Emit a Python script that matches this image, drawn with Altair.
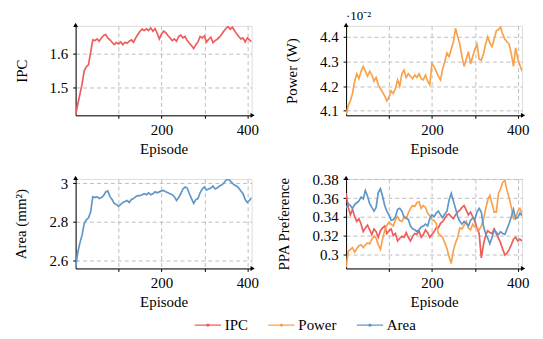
import altair as alt
import pandas as pd

episodes = list(range(0, 411, 5))

ipc = [1.417, 1.45, 1.48, 1.51, 1.55, 1.562, 1.568, 1.605, 1.642, 1.64,
       1.645, 1.638, 1.648, 1.655, 1.658, 1.648, 1.642, 1.635, 1.628, 1.634,
       1.63, 1.636, 1.628, 1.635, 1.632, 1.638, 1.642, 1.635, 1.648, 1.658,
       1.668, 1.674, 1.67, 1.675, 1.67, 1.678, 1.668, 1.676, 1.662, 1.645,
       1.66, 1.668, 1.664, 1.655, 1.648, 1.64, 1.645, 1.638, 1.652, 1.656,
       1.648, 1.652, 1.64, 1.632, 1.625, 1.616, 1.628, 1.636, 1.652, 1.648,
       1.654, 1.636, 1.644, 1.65, 1.634, 1.64, 1.644, 1.65, 1.658, 1.668,
       1.676, 1.682, 1.674, 1.68, 1.67, 1.66, 1.652, 1.645, 1.648, 1.636,
       1.648, 1.642, 1.636]

power = [4.085, 4.12, 4.14, 4.17, 4.22, 4.25, 4.23, 4.26, 4.28, 4.26,
         4.24, 4.26, 4.245, 4.22, 4.235, 4.205, 4.19, 4.175, 4.16, 4.14,
         4.155, 4.18, 4.17, 4.19, 4.225, 4.2, 4.25, 4.265, 4.235, 4.25,
         4.24, 4.23, 4.245, 4.235, 4.25, 4.23, 4.225, 4.245, 4.22, 4.205,
         4.29, 4.28, 4.26, 4.24, 4.225, 4.27, 4.3, 4.335, 4.32, 4.35,
         4.38, 4.435, 4.4, 4.37, 4.32, 4.28, 4.31, 4.34, 4.29, 4.32,
         4.35, 4.37, 4.31, 4.305, 4.33, 4.37, 4.4, 4.375, 4.36, 4.39,
         4.425, 4.43, 4.44, 4.41, 4.39, 4.38, 4.37, 4.33, 4.28, 4.355,
         4.31, 4.285, 4.26]

area = [2.56, 2.64, 2.69, 2.73, 2.79, 2.81, 2.82, 2.85, 2.93, 2.925,
        2.93, 2.92, 2.925, 2.935, 2.955, 2.96, 2.93, 2.915, 2.895, 2.89,
        2.88, 2.89, 2.9, 2.905, 2.91, 2.9, 2.915, 2.92, 2.93, 2.935,
        2.935, 2.94, 2.945, 2.94, 2.95, 2.94, 2.945, 2.955, 2.95, 2.955,
        2.96, 2.962, 2.955, 2.95, 2.945, 2.94, 2.93, 2.91, 2.925, 2.945,
        2.97, 2.98, 2.975, 2.945, 2.92, 2.895, 2.915, 2.92, 2.95, 2.97,
        2.98, 2.965, 2.97, 2.975, 2.985, 2.97, 2.975, 2.985, 2.99, 3.0,
        3.015, 3.022, 3.012, 3.0, 2.99, 2.985, 2.975, 2.96, 2.945, 2.915,
        2.9, 2.91, 2.925]

pref_ipc = [0.365, 0.35, 0.342, 0.348, 0.34, 0.335, 0.338, 0.332, 0.324, 0.328,
            0.331, 0.326, 0.321, 0.327, 0.324, 0.318, 0.325, 0.328, 0.33, 0.322,
            0.325, 0.327, 0.32, 0.322, 0.314, 0.317, 0.319, 0.318, 0.323, 0.318,
            0.314, 0.319, 0.322, 0.321, 0.325, 0.318, 0.321, 0.326, 0.323, 0.318,
            0.321, 0.324, 0.328, 0.328, 0.333, 0.335, 0.338, 0.342, 0.343, 0.34,
            0.338, 0.342, 0.345, 0.347, 0.35, 0.352, 0.347, 0.342, 0.345, 0.34,
            0.335, 0.328, 0.322, 0.296, 0.31, 0.32, 0.325, 0.323, 0.322, 0.327,
            0.322, 0.317, 0.312, 0.305, 0.299, 0.301, 0.305, 0.31, 0.316, 0.318,
            0.314, 0.316, 0.314]

pref_power = [0.286, 0.303, 0.305, 0.307, 0.302, 0.306, 0.309, 0.31, 0.307, 0.31,
              0.312, 0.311, 0.316, 0.319, 0.317, 0.31, 0.305, 0.316, 0.325, 0.331,
              0.334, 0.332, 0.33, 0.337, 0.34, 0.336, 0.335, 0.339, 0.338, 0.344,
              0.349, 0.352, 0.351, 0.355, 0.356, 0.349, 0.352, 0.35, 0.344, 0.341,
              0.337, 0.336, 0.333, 0.322, 0.32, 0.318, 0.312, 0.306, 0.297, 0.29,
              0.304, 0.312, 0.318, 0.328, 0.327, 0.331, 0.335, 0.328, 0.326, 0.332,
              0.329, 0.328, 0.326, 0.33, 0.337, 0.348, 0.358, 0.363, 0.354, 0.345,
              0.345, 0.365, 0.37, 0.377, 0.379, 0.368, 0.36, 0.35, 0.338, 0.338,
              0.346, 0.349, 0.343]

pref_area = [0.349, 0.354, 0.352, 0.349, 0.353, 0.355, 0.357, 0.361, 0.359, 0.368,
             0.362, 0.354, 0.35, 0.346, 0.35, 0.366, 0.37, 0.362, 0.352, 0.346,
             0.342, 0.336, 0.337, 0.34, 0.348, 0.349, 0.346, 0.34, 0.339, 0.337,
             0.33, 0.327, 0.326, 0.324, 0.326, 0.329, 0.33, 0.332, 0.33, 0.338,
             0.342, 0.34, 0.344, 0.346, 0.342, 0.339, 0.343, 0.346, 0.358, 0.365,
             0.357, 0.349, 0.34, 0.335, 0.332, 0.335, 0.333, 0.33, 0.336, 0.339,
             0.337, 0.345, 0.349, 0.345, 0.33, 0.322, 0.317, 0.311, 0.318, 0.326,
             0.323, 0.321, 0.324, 0.322, 0.321, 0.327, 0.333, 0.34, 0.348, 0.338,
             0.339, 0.344, 0.341]

series_names = ["IPC", "Power", "Area"]
series_colors = ["#ef5d5b", "#f8a24c", "#5f97c8"]

FONT = "Liberation Serif"
W, H = 177, 90


def frame(values, name):
    return pd.DataFrame({"episode": episodes, "value": values, "series": name})


color_scale = alt.Scale(domain=series_names, range=series_colors)
legend = alt.Legend(
    orient="none", legendX=119, legendY=287, direction="horizontal", title=None,
    symbolType="M-1,0H1M-0.07,0A0.07,0.07 0 1,0 0.07,0A0.07,0.07 0 1,0 -0.07,0",
    symbolSize=700, symbolStrokeWidth=1.5,
    labelFont=FONT, labelFontSize=15, labelColor="black", labelOffset=3,
    columnPadding=16,
)

axis_common = dict(
    domainColor="black", domainWidth=1, tickColor="black", tickSize=3, tickWidth=1,
    labelFont=FONT, labelFontSize=15, labelColor="black",
    titleFont=FONT, titleFontSize=15, titleFontWeight="normal", titleColor="black",
    grid=True, gridColor="#bdbdbd", gridDash=[4, 3], gridWidth=1,
)


def panel(df, ytitle, ydomain, yticks, title_x, extra=None):
    xaxis = alt.Axis(
        values=[100, 200, 300, 400],
        labelExpr="datum.value % 200 === 0 ? datum.label : ''",
        title="Episode", titleY=38, titleBaseline="alphabetic",
        labelPadding=4, **axis_common,
    )
    yaxis = alt.Axis(
        values=yticks, format="~g", title=ytitle,
        titleX=title_x, titleY=H / 2, titleBaseline="middle", titleAlign="center",
        labelPadding=5, **axis_common,
    )
    line = alt.Chart(df).mark_line(strokeWidth=1.7, clip=True).encode(
        x=alt.X("episode:Q", scale=alt.Scale(domain=[0, 410], nice=False, zero=False), axis=xaxis),
        y=alt.Y("value:Q", scale=alt.Scale(domain=ydomain, nice=False, zero=False), axis=yaxis),
        color=alt.Color("series:N", scale=color_scale, legend=legend),
        detail="series:N",
    )
    dummy = pd.DataFrame({"k": [0]})
    xarrow = alt.Chart(dummy).mark_point(shape="triangle-right", filled=True, size=24,
                                         color="black", opacity=1).encode(
        x=alt.value(W + 1), y=alt.value(H))
    yarrow = alt.Chart(dummy).mark_point(shape="triangle-up", filled=True, size=24,
                                         color="black", opacity=1).encode(
        x=alt.value(0), y=alt.value(-1))
    layers = [line, xarrow, yarrow]
    if extra is not None:
        layers.append(extra)
    return alt.layer(*layers).properties(width=W, height=H)


dummy = pd.DataFrame({"k": [0]})
exponent = alt.Chart(dummy).mark_text(align="left", baseline="alphabetic", font=FONT,
                                      fontSize=13, color="black").encode(
    x=alt.value(0), y=alt.value(-6), text=alt.value("·10⁻²"))

p1 = panel(frame(ipc, "IPC"), "IPC", [1.417, 1.684], [1.5, 1.6], -54)
p2 = panel(frame(power, "Power"), "Power (W)", [4.081, 4.445], [4.1, 4.2, 4.3, 4.4], -55, exponent)
p3 = panel(frame(area, "Area"), "Area (mm²)", [2.557, 3.022], [2.6, 2.8, 3.0], -55)
pref_df = pd.concat([frame(pref_ipc, "IPC"), frame(pref_power, "Power"), frame(pref_area, "Area")])
p4 = panel(pref_df, "PPA Preference", [0.2846, 0.3805], [0.3, 0.32, 0.34, 0.36, 0.38], -63)

chart = alt.concat(
    p1, p2, p3, p4, columns=2, spacing={"row": 64, "column": 95}, bounds="flush"
).properties(
    padding={"left": 5, "top": 0, "right": 5, "bottom": 2}
).configure_view(stroke=None).configure(background="white")

chart.save("out.html", embed_options={"renderer": "svg", "actions": False})
